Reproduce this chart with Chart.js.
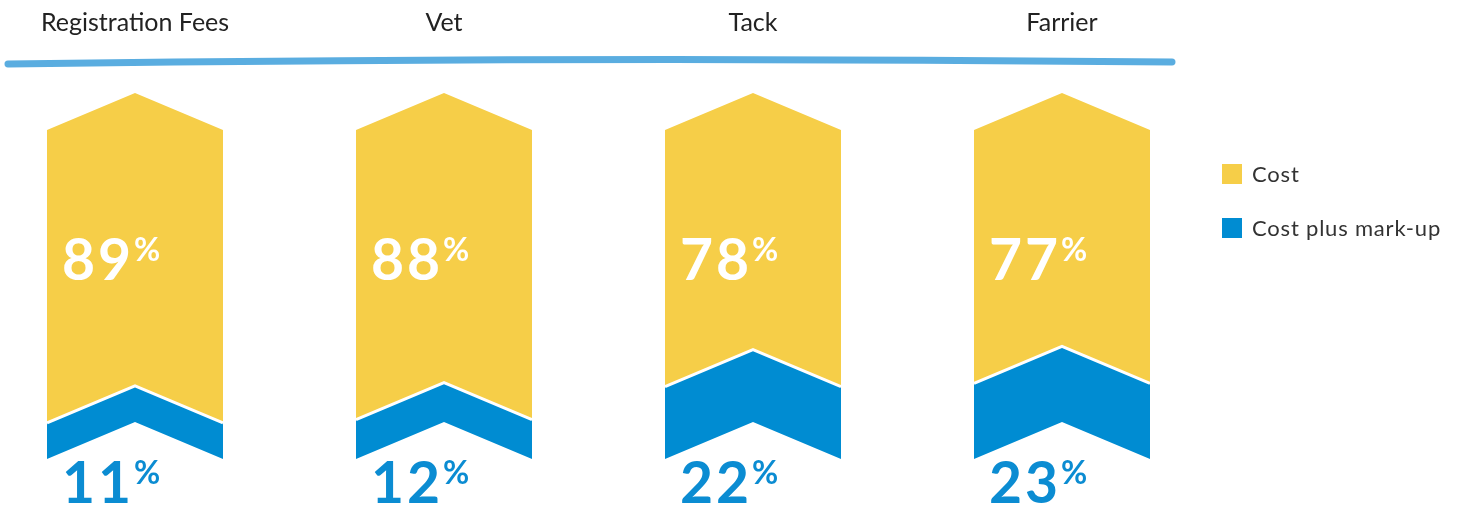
<!DOCTYPE html>
<html>
<head>
<meta charset="utf-8">
<script src="https://cdn.jsdelivr.net/npm/chart.js@4"></script>
<style>
  html, body { margin: 0; padding: 0; background: #fff; }
  #wrap { width: 1461px; height: 508px; position: relative; }
</style>
</head>
<body>
<div id="wrap"><canvas id="chevrons"></canvas></div>
<script>
const categories = ["Registration Fees", "Vet", "Tack", "Farrier"];
const costValues = [89, 88, 78, 77];
const markupValues = [11, 12, 22, 23];
const seriesNames = ["Cost", "Cost plus mark-up"];

const YELLOW = "#F6CE48";
const BLUE = "#008CD2";
const NOTCH = 37; // chevron depth in px

function chevron(ctx, el) {
  const { x, y, base, width } = el.getProps(["x", "y", "base", "width"], true);
  const l = x - width / 2, r = x + width / 2;
  ctx.beginPath();
  ctx.moveTo(l, y);
  ctx.lineTo(x, y - NOTCH);
  ctx.lineTo(r, y);
  ctx.lineTo(r, base);
  ctx.lineTo(x, base - NOTCH);
  ctx.lineTo(l, base);
  ctx.closePath();
}

const chevronPlugin = {
  id: "chevronPlugin",
  beforeDatasetDraw() {
    return false; // bars are drawn as chevrons below
  },
  afterDatasetsDraw(chart) {
    const ctx = chart.ctx;
    const costMeta = chart.getDatasetMeta(1);
    const markMeta = chart.getDatasetMeta(0);
    ctx.save();
    // yellow cost chevrons
    costMeta.data.forEach((el) => {
      chevron(ctx, el);
      ctx.fillStyle = YELLOW;
      ctx.fill();
    });
    // blue mark-up chevrons with white seam on top
    markMeta.data.forEach((el) => {
      chevron(ctx, el);
      ctx.fillStyle = BLUE;
      ctx.fill();
      const { x, y, width } = el.getProps(["x", "y", "width"], true);
      ctx.beginPath();
      ctx.moveTo(x - width / 2, y);
      ctx.lineTo(x, y - NOTCH);
      ctx.lineTo(x + width / 2, y);
      ctx.strokeStyle = "#fff";
      ctx.lineWidth = 3;
      ctx.stroke();
    });

    // percentage labels
    const pct = (txt, left, baseline, color) => {
      ctx.fillStyle = color;
      ctx.textAlign = "left";
      ctx.textBaseline = "alphabetic";
      ctx.letterSpacing = "3px";
      ctx.font = "bold 57px Lato";
      ctx.fillText(txt, left, baseline);
      const w = ctx.measureText(txt).width;
      ctx.letterSpacing = "0px";
      ctx.font = "bold 32px Lato";
      ctx.fillText("%", left + w, baseline - 19);
    };
    costMeta.data.forEach((el, i) => {
      const left = el.x - el.width / 2 + 15;
      pct(String(costValues[i]), left, 280, "#fff");
    });
    markMeta.data.forEach((el, i) => {
      const left = el.x - el.width / 2 + 15;
      pct(String(markupValues[i]), left, 503, "#0B8CD2");
    });

    // brush stroke under category labels
    ctx.beginPath();
    ctx.moveTo(8, 64);
    ctx.quadraticCurveTo(590, 56, 1172, 62);
    ctx.strokeStyle = "#5AADE0";
    ctx.lineWidth = 7;
    ctx.lineCap = "round";
    ctx.stroke();

    // legend
    const legend = [
      { name: seriesNames[0], color: YELLOW, y: 164 },
      { name: seriesNames[1], color: BLUE, y: 218 },
    ];
    ctx.font = "22px Lato";
    ctx.letterSpacing = "0.8px";
    ctx.textBaseline = "middle";
    legend.forEach((it) => {
      ctx.fillStyle = it.color;
      ctx.fillRect(1222, it.y, 20, 20);
      ctx.fillStyle = "#333";
      ctx.fillText(it.name, 1252, it.y + 11);
    });
    ctx.restore();
  },
};

new Chart(document.getElementById("chevrons"), {
  type: "bar",
  data: {
    labels: categories,
    datasets: [
      { label: seriesNames[1], data: markupValues, backgroundColor: BLUE },
      { label: seriesNames[0], data: costValues, backgroundColor: YELLOW },
    ],
  },
  options: {
    responsive: true,
    maintainAspectRatio: false,
    animation: false,
    barThickness: 176,
    layout: { padding: { left: 135, right: 399, top: 0, bottom: 49 } },
    scales: {
      x: {
        stacked: true,
        position: "top",
        offset: false,
        grid: { display: false },
        border: { display: false },
        ticks: {
          font: { family: "Lato", size: 25 },
          color: "#222",
          padding: 84,
          maxRotation: 0,
          autoSkip: false,
        },
        afterFit: (scale) => {
          scale.height = 130;
          scale.paddingLeft = 0;
          scale.paddingRight = 0;
        },
      },
      y: { stacked: true, display: false, min: 0, max: 100 },
    },
    plugins: {
      legend: { display: false },
      tooltip: { enabled: false },
    },
  },
  plugins: [chevronPlugin],
});
</script>
</body>
</html>
